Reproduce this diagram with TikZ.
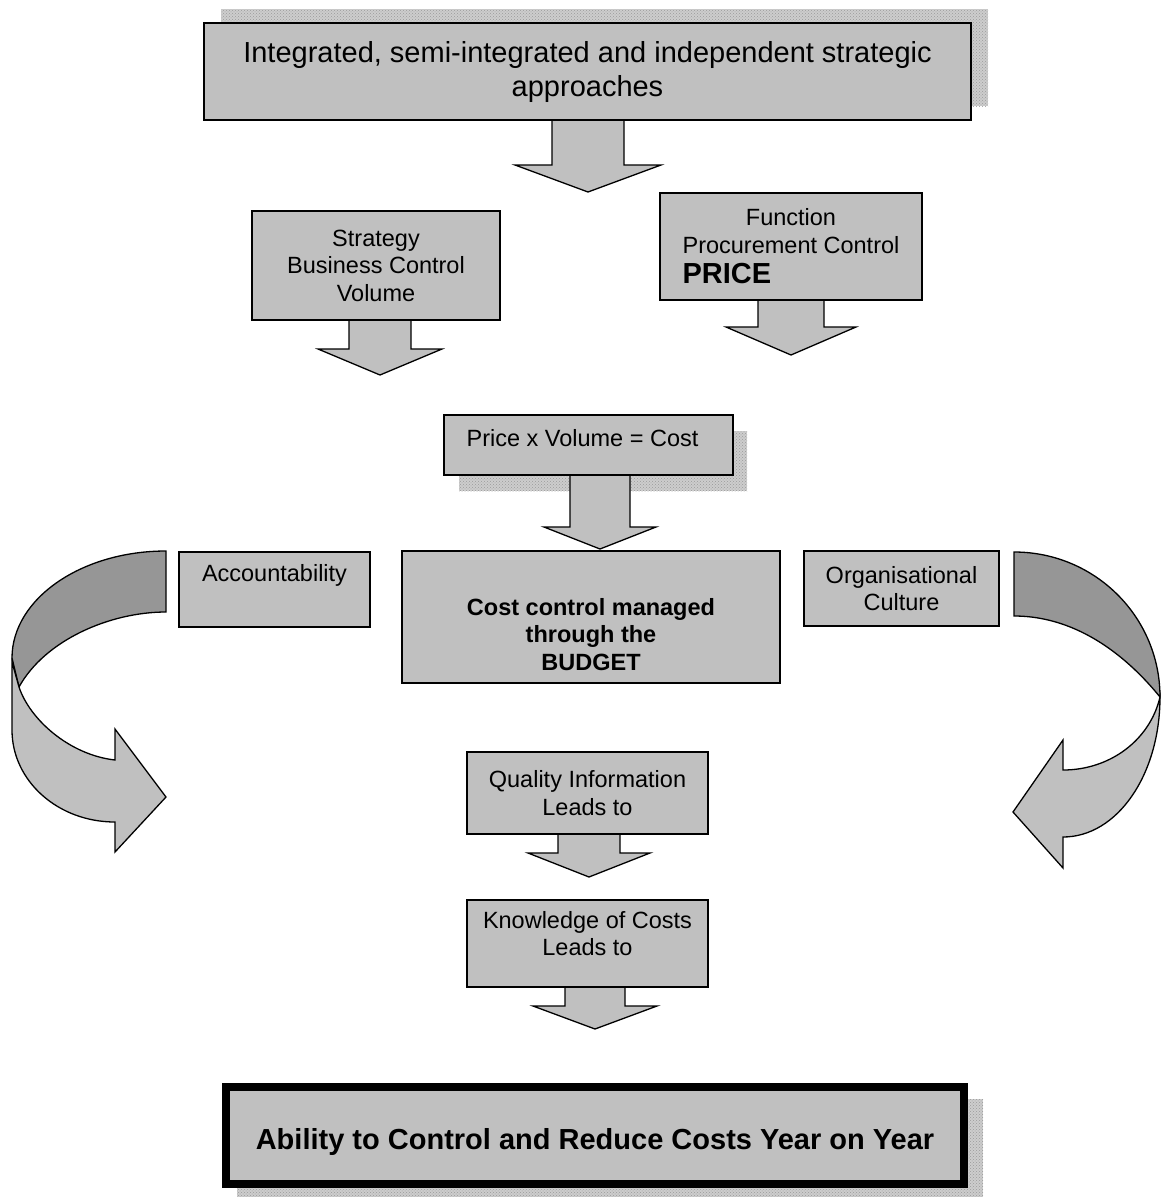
\documentclass[tikz,border=0pt]{standalone}
\usepackage{fontspec}
\setmainfont{Liberation Sans}
\usetikzlibrary{patterns}
\definecolor{boxgray}{HTML}{C0C0C0}
\definecolor{darkband}{HTML}{969696}
\definecolor{shadowgray}{HTML}{CDCDCD}
\definecolor{shadowdot}{HTML}{9A9A9A}
\tikzset{
  box/.style={draw=black, fill=boxgray, line width=1.3pt, align=center, inner sep=0pt,
    font=\fontsize{23.5}{27.5}\selectfont},
  blockarrow/.style={draw=black, fill=boxgray, line width=1.3pt, line join=miter},
  shadowfill/.style={fill=shadowgray, postaction={pattern=crosshatch dots, pattern color=shadowdot}},
  band/.style={draw=black, line width=1.3pt, line join=miter},
}
% block arrow: centre x, start y, head top y, tip y, half shaft, half head
\newcommand\blockarr[6]{%
  \draw[blockarrow] (#1-#5,#2) -- (#1-#5,#3) -- (#1-#6,#3) -- (#1,#4) -- (#1+#6,#3) -- (#1+#5,#3) -- (#1+#5,#2);}
\begin{document}
\begin{tikzpicture}[x=1pt,y=-1pt]
\useasboundingbox (0,0) rectangle (1162,1197);
\fill[white] (0,0) rectangle (1162,1197);

% shadows
\fill[shadowfill] (221,9) rectangle (988,106);
\fill[shadowfill] (459,431) rectangle (747,491);
\fill[shadowfill] (237,1099) rectangle (983,1197);

% block arrows
\blockarr{588}{120}{165}{192}{36}{73}
\blockarr{380}{320}{349}{375}{31}{62}
\blockarr{791}{300}{327}{355}{33}{65}
\blockarr{600}{475}{527}{549}{30}{56}
\blockarr{589}{834}{853}{877}{31}{61}
\blockarr{595}{987}{1006}{1029}{30}{62}

% boxes
\node[box, minimum width=767pt, minimum height=97pt, font=\fontsize{29}{34}\selectfont] (top) at (587.5,71.5)
  {Integrated, semi-integrated and independent strategic\\approaches};
\node[box, minimum width=248pt, minimum height=109pt] (strat) at (376,265.5)
  {Strategy\\Business Control\\Volume};
\node[box, minimum width=262pt, minimum height=107pt] (func) at (791,246.5)
  {Function\\Procurement Control\\[3pt]\rlap{\fontsize{29}{30}\selectfont\bfseries PRICE}\phantom{Procurement Control}};
\node[box, minimum width=289pt, minimum height=60pt] (price) at (588.5,445)
  {\raisebox{7pt}[\height][\depth]{\makebox[0pt]{\hspace{-12pt}Price x Volume = Cost}}};
\node[box, minimum width=378pt, minimum height=132pt, font=\fontsize{23.5}{27.5}\selectfont\bfseries] (cost) at (591,617)
  {\raisebox{-20pt}[\height][\depth]{\begin{tabular}{@{}c@{}}Cost control managed\\through the\\BUDGET\end{tabular}}};
\node[box, minimum width=191pt, minimum height=75pt] (acc) at (274.5,589.5)
  {\raisebox{14pt}[\height][\depth]{Accountability}};
\node[box, minimum width=195pt, minimum height=75pt] (org) at (901.5,588.5)
  {Organisational\\Culture};
\node[box, minimum width=241pt, minimum height=82pt] (qual) at (587.5,793)
  {Quality Information\\Leads to};
\node[box, minimum width=241pt, minimum height=87pt] (know) at (587.5,943.5)
  {\raisebox{7pt}[\height][\depth]{\begin{tabular}{@{}c@{}}Knowledge of Costs\\Leads to\end{tabular}}};
\node[box, line width=8pt, minimum width=738pt, minimum height=97pt, font=\fontsize{29}{34}\selectfont\bfseries] (final) at (595,1135.5)
  {\raisebox{-6pt}[\height][\depth]{Ability to Control and Reduce Costs Year on Year}};

% left curved arrow
\draw[band, fill=darkband] (166,551) .. controls (81,551) and (12,599) .. (12,658)
  -- (19,687) .. controls (45,640) and (110,612) .. (166,612) -- cycle;
\draw[band, fill=boxgray] (12,662) -- (12,730) .. controls (12,781) and (58,822) .. (115,822)
  -- (115,852) -- (166,797) -- (115,729) -- (115,760)
  .. controls (70,755) and (30,720) .. (19,687) -- cycle;

% right curved arrow
\draw[band, fill=darkband] (1014,552) .. controls (1095,552) and (1160,617) .. (1160,697)
  .. controls (1130,660) and (1080,616) .. (1014,616) -- cycle;
\draw[band, fill=boxgray] (1160,697) .. controls (1160,775) and (1117,837) .. (1063,837)
  -- (1063,868) -- (1013,812) -- (1063,740) -- (1063,770)
  .. controls (1110,770) and (1150,740) .. (1160,697) -- cycle;
\end{tikzpicture}
\end{document}
